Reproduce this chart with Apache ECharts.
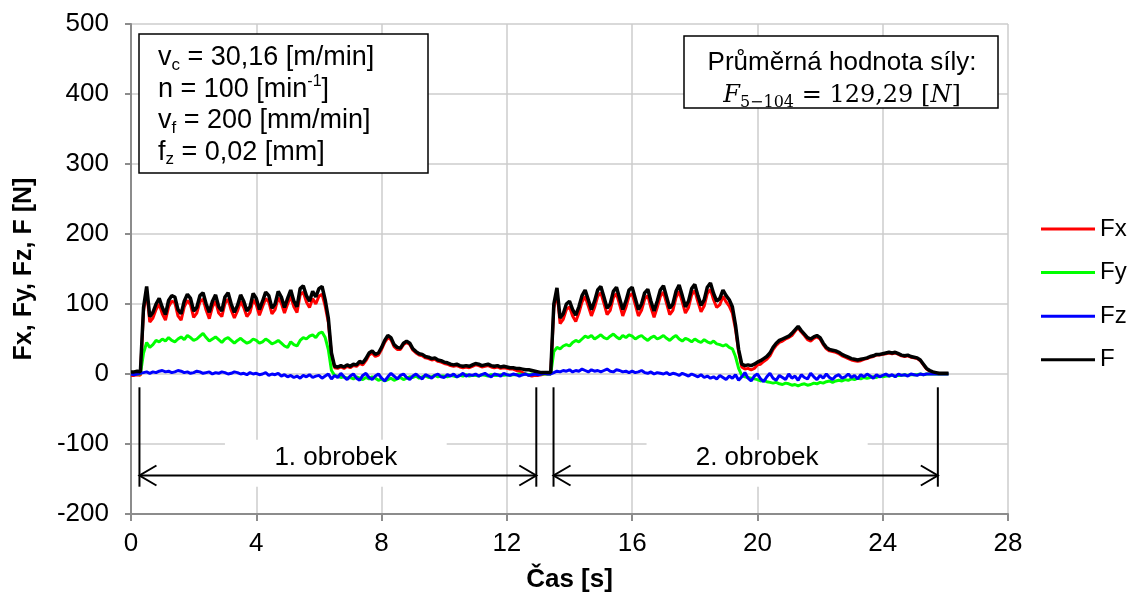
<!DOCTYPE html>
<html>
<head>
<meta charset="utf-8">
<script src="https://cdn.jsdelivr.net/npm/echarts@6/dist/echarts.min.js"></script>
<style>
  html, body { margin: 0; padding: 0; background: #fff; }
  #forceChart { width: 1128px; height: 599px; }
</style>
</head>
<body>
<div id="forceChart"></div>
<script>
// sampling step of the recorded signals [s]
const sampleStep = 0.1;

// one row = one second (10 samples)
const Fx = [
  -2, -2, -1, -2, 90, 118, 74, 80, 92, 100,
  86, 77, 96, 104, 102, 83, 77, 96, 105, 99,
  81, 87, 103, 107, 91, 79, 96, 104, 87, 82,
  101, 107, 91, 80, 90, 104, 95, 82, 88, 106,
  99, 84, 96, 108, 103, 86, 92, 109, 101, 87,
  100, 111, 96, 88, 113, 117, 103, 95, 108, 100,
  111, 114, 97, 74, 28, 9, 8, 10, 8, 11,
  9, 12, 11, 15, 13, 19, 27, 30, 25, 27,
  35, 45, 52, 49, 39, 35, 35, 42, 45, 42,
  34, 30, 27, 26, 23, 22, 20, 21, 18, 17,
  15, 14, 12, 11, 12, 10, 9, 10, 9, 11,
  13, 12, 10, 11, 12, 10, 9, 10, 8, 9,
  8, 7, 7, 5, 4, 2, 0, -2, -3, -2,
  -2, -1, 0, 0, 0, 94, 117, 72, 78, 92,
  96, 83, 75, 87, 103, 111, 97, 83, 95, 111,
  116, 101, 85, 91, 109, 115, 99, 83, 95, 111,
  115, 99, 83, 91, 107, 112, 95, 81, 95, 111,
  117, 101, 85, 91, 109, 118, 103, 87, 95, 113,
  119, 103, 89, 97, 115, 121, 106, 95, 99, 111,
  103, 97, 87, 64, 32, 10, 7, 8, 6, 8,
  13, 14, 18, 21, 26, 35, 41, 45, 47, 50,
  52, 55, 61, 66, 60, 55, 49, 47, 51, 53,
  50, 42, 36, 33, 32, 31, 29, 26, 24, 22,
  20, 19, 18, 19, 21, 22, 24, 25, 27, 27,
  28, 29, 30, 29, 30, 28, 26, 25, 26, 24,
  23, 22, 19, 13, 7, 4, 2, 1, 0, 0,
  0, 0
];

const Fy = [
  0, 0, 0, 0, 30, 45, 38, 42, 48, 46,
  50, 47, 52, 48, 46, 50, 53, 49, 55, 52,
  48, 50, 54, 58, 52, 47, 50, 53, 49, 45,
  50, 52, 48, 44, 48, 51, 47, 44, 46, 50,
  48, 44, 46, 50, 47, 43, 45, 48, 44, 40,
  38, 46, 42, 40, 48, 52, 50, 54, 56, 52,
  58, 60, 52, 35, 5, -2, -3, -5, -4, -6,
  -5, -7, -4, -6, -8, -5, -7, -4, -6, -9,
  -7, -10, -8, -6, -9, -7, -5, -8, -6, -4,
  -5, -3, -6, -4, -3, -5, -4, -2, -4, -3,
  -3, -4, -2, -3, -4, -2, -3, -1, -3, -2,
  -2, -3, -1, -2, -3, -1, -2, -2, -1, -2,
  -1, -2, -1, -1, 0, -1, 0, -1, 0, 0,
  0, 0, 0, 0, 0, 32, 38, 36, 40, 42,
  40, 45, 48, 46, 50, 54, 52, 55, 50, 53,
  56, 52, 50, 54, 57, 53, 50, 55, 52, 56,
  54, 50, 53, 55, 51, 48, 52, 54, 50, 52,
  55, 51, 48, 52, 55, 50, 47, 51, 49, 46,
  50, 47, 45, 49, 46, 44, 47, 43, 42, 40,
  42, 38, 36, 25, 8, -2, -4, -5, -6, -7,
  -8, -10, -9, -11, -12, -13, -12, -14, -15, -13,
  -14, -16, -15, -17, -15, -14, -16, -15, -13, -14,
  -12, -13, -11, -10, -12, -10, -9, -10, -8, -9,
  -7, -8, -6, -7, -5, -6, -5, -4, -5, -3,
  -4, -3, -3, -2, -3, -2, -2, -1, -2, -1,
  -1, -1, 0, -1, 0, 0, 0, 0, 0, 0,
  0, 0
];

const Fz = [
  0, -1, 0, 1, 2, 3, 1, 3, 2, 4,
  5, 3, 4, 2, 3, 5, 4, 2, 3, 1,
  2, 4, 3, 1, 2, 3, 0, 2, 1, 3,
  2, 0, 1, 3, 2, 0, 1, -1, 2, 0,
  1, -1, 0, 2, -2, 0, -1, 1, -3, -1,
  -4, -2, -5, -3, -6, -2, -4, -1, -5, -3,
  -2, -6, -3, 0, -7, -2, -5, 1, -4, -8,
  -3, 0, -6, -9, -2, 1, -5, -8, -3, 0,
  -6, -10, -4, 1, -3, -7, -2, 0, -5, -8,
  -3, 0, -4, -7, -1, -3, -6, -2, 0, -4,
  -5, -1, -3, 0, -4, -2, 1, -3, -1, -2,
  0, -3, -1, 1, -2, -4, 0, -1, -3, 1,
  -1, -2, 0, -1, -3, -1, 0, -2, -1, 0,
  -1, 0, 1, 0, 0, 2, 4, 3, 5, 4,
  6, 3, 5, 4, 7, 5, 3, 6, 4, 5,
  3, 5, 7, 4, 3, 6, 5, 3, 4, 2,
  4, 2, 3, 5, 2, 1, 3, 0, 2, 1,
  0, 2, -1, 1, 0, -2, 1, -1, -3, 0,
  -2, -4, -1, -5, -3, -6, -4, -7, -2, -5,
  -8, -3, -6, -1, -9, -4, 2, -6, -10, -3,
  0, -7, -11, -4, 1, -6, -9, -2, -5, -8,
  0, -6, -3, -9, -1, -5, -7, 1, -4, -8,
  -2, -6, 0, -5, -8, -3, -1, -6, -4, 0,
  -5, -2, -7, -1, -4, 0, -3, -6, -1, -4,
  -2, 0, -3, -1, -4, 0, -2, -1, -3, 0,
  -1, -2, 0, -1, 0, 0, 0, 0, 0, 0,
  0, 0
];

const F = [
  3, 3, 4, 3, 95, 125, 82, 88, 100, 108,
  95, 85, 105, 112, 110, 92, 86, 104, 114, 108,
  90, 95, 112, 116, 100, 88, 104, 113, 96, 90,
  110, 116, 100, 88, 98, 113, 104, 90, 96, 115,
  108, 92, 104, 117, 112, 94, 100, 118, 110, 95,
  108, 120, 104, 96, 122, 126, 112, 104, 118, 110,
  122, 125, 106, 80, 30, 11, 10, 12, 10, 13,
  11, 14, 13, 18, 16, 22, 30, 33, 28, 30,
  38, 48, 55, 52, 42, 38, 37, 44, 47, 44,
  36, 32, 29, 28, 25, 24, 22, 23, 20, 19,
  17, 16, 14, 13, 14, 12, 11, 12, 11, 13,
  15, 14, 12, 13, 14, 12, 11, 12, 10, 11,
  10, 9, 9, 8, 8, 7, 6, 6, 5, 4,
  3, 2, 2, 2, 2, 100, 123, 80, 86, 100,
  104, 92, 84, 96, 112, 120, 106, 92, 104, 120,
  125, 110, 94, 100, 118, 124, 108, 92, 104, 120,
  124, 108, 92, 100, 116, 121, 104, 90, 104, 120,
  126, 110, 94, 100, 118, 127, 112, 96, 104, 122,
  128, 112, 98, 106, 124, 130, 115, 104, 108, 120,
  112, 106, 96, 70, 35, 14, 12, 13, 12, 14,
  17, 19, 22, 25, 30, 38, 44, 48, 50, 52,
  54, 58, 63, 68, 62, 57, 52, 50, 53, 55,
  52, 44, 38, 35, 34, 33, 31, 28, 26, 24,
  22, 21, 20, 21, 22, 23, 25, 26, 28, 28,
  29, 30, 31, 30, 31, 29, 27, 26, 27, 25,
  24, 23, 20, 14, 8, 5, 3, 2, 1, 1,
  1, 1
];

const seriesNames = ["Fx", "Fy", "Fz", "F"];
const seriesColors = ["#ff0000", "#00ff00", "#0000ff", "#000000"];

// workpiece spans (time [s]) for the dimension arrows
const workpieces = [
  { label: "1. obrobek", start: 0.27, end: 12.94, boxFrom: 3.0, boxTo: 10.08 },
  { label: "2. obrobek", start: 13.49, end: 25.76, boxFrom: 16.46, boxTo: 23.52 }
];

const toPairs = arr => arr.map((v, i) => [+(i * sampleStep).toFixed(1), v]);

let chartDom = document.getElementById("forceChart");
let myChart = echarts.init(chartDom, null, { renderer: "canvas" });

const font = "Liberation Sans, Arial, sans-serif";

let option = {
  animation: false,
  textStyle: { fontFamily: font, color: "#000" },
  grid: {
    left: 131,
    right: 120,
    top: 24,
    bottom: 85,
    containLabel: false,
    outerBoundsMode: "none"
  },
  legend: {
    orient: "vertical",
    left: 1036,
    top: 212,
    itemWidth: 54,
    itemHeight: 3,
    itemGap: 19.6,
    icon: "rect",
    selectedMode: false,
    textStyle: { fontSize: 24, lineHeight: 24, color: "#000", fontFamily: font },
    data: seriesNames
  },
  xAxis: {
    type: "value",
    min: 0,
    max: 28,
    interval: 4,
    name: "Čas [s]",
    nameLocation: "middle",
    nameGap: 53,
    nameTextStyle: { fontSize: 26, fontWeight: "bold", color: "#000" },
    axisLine: { onZero: false, lineStyle: { color: "#8c8c8c", width: 2 } },
    axisTick: { show: true, length: 7, lineStyle: { color: "#8c8c8c", width: 2 } },
    axisLabel: { fontSize: 26, margin: 17, color: "#000" },
    splitLine: { show: true, lineStyle: { color: "#cccccc", width: 1.5 } }
  },
  yAxis: {
    type: "value",
    min: -200,
    max: 500,
    interval: 100,
    name: "Fx, Fy, Fz, F [N]",
    nameLocation: "middle",
    nameGap: 94,
    nameTextStyle: { fontSize: 25, fontWeight: "bold", color: "#000" },
    axisLine: { show: true, lineStyle: { color: "#8c8c8c", width: 2 } },
    axisTick: { show: true, length: 6, lineStyle: { color: "#8c8c8c", width: 2 } },
    axisLabel: { fontSize: 26, margin: 22, color: "#000" },
    splitLine: { show: true, lineStyle: { color: "#cccccc", width: 1.5 } }
  },
  series: [Fx, Fy, Fz, F].map((arr, i) => ({
    name: seriesNames[i],
    type: "line",
    showSymbol: false,
    symbol: "none",
    color: seriesColors[i],
    lineStyle: { color: seriesColors[i], width: i === 3 ? 3.5 : 3 },
    z: 2 + i,
    data: toPairs(arr)
  }))
};

myChart.setOption(option);

// annotations -------------------------------------------------------------
const px = (t, v) => myChart.convertToPixel({ gridIndex: 0 }, [t, v]);
const lineStyle = { stroke: "#000", lineWidth: 2 };
let graphics = [];

workpieces.forEach(w => {
  const b1 = px(w.boxFrom, -94), b2 = px(w.boxTo, -161);
  graphics.push({
    type: "rect", z: 100,
    shape: { x: b1[0], y: b1[1], width: b2[0] - b1[0], height: b2[1] - b1[1] },
    style: { fill: "#fff" }
  });
  [w.start, w.end].forEach(t => {
    const a = px(t, -19), b = px(t, -161);
    graphics.push({ type: "line", z: 101, shape: { x1: a[0], y1: a[1], x2: b[0], y2: b[1] }, style: lineStyle });
  });
  const l = px(w.start, -145), r = px(w.end, -145);
  graphics.push({ type: "line", z: 101, shape: { x1: l[0], y1: l[1], x2: r[0], y2: r[1] }, style: lineStyle });
  graphics.push({ type: "polyline", z: 101, shape: { points: [[l[0] + 17, l[1] - 10], [l[0], l[1]], [l[0] + 17, l[1] + 10]] }, style: Object.assign({ fill: null }, lineStyle) });
  graphics.push({ type: "polyline", z: 101, shape: { points: [[r[0] - 17, r[1] - 10], [r[0], r[1]], [r[0] - 17, r[1] + 10]] }, style: Object.assign({ fill: null }, lineStyle) });
  const c = px((w.boxFrom + w.boxTo) / 2, -119.6);
  graphics.push({
    type: "text", z: 102, x: c[0], y: c[1],
    style: { text: w.label, font: "26px " + font, fill: "#000", align: "center", verticalAlign: "middle" }
  });
});

// cutting conditions box
graphics.push({
  type: "rect", z: 100,
  shape: { x: 139, y: 34, width: 289, height: 139 },
  style: { fill: "#fff", stroke: "#000", lineWidth: 1.5 }
});
graphics.push({
  type: "text", z: 101, x: 158, y: 42,
  style: {
    text: "v{sub|c} = 30,16 [m/min]\nn = 100 [min{sup|-1}]\nv{sub|f} = 200 [mm/min]\nf{sub|z} = 0,02 [mm]",
    fontFamily: font, fontSize: 27, lineHeight: 31.5, fill: "#000",
    align: "left", verticalAlign: "top",
    rich: {
      sub: { fontFamily: font, fontSize: 17, lineHeight: 14, verticalAlign: "bottom" },
      sup: { fontFamily: font, fontSize: 16, lineHeight: 14, verticalAlign: "top" }
    }
  }
});

// mean force box
graphics.push({
  type: "rect", z: 100,
  shape: { x: 684, y: 36, width: 314, height: 72 },
  style: { fill: "#fff", stroke: "#000", lineWidth: 1.5 }
});
graphics.push({
  type: "text", z: 101, x: 842, y: 63,
  style: { text: "Průměrná hodnota síly:", font: "26px " + font, fill: "#000", align: "center", verticalAlign: "middle" }
});
graphics.push({
  type: "text", z: 101, x: 842, y: 81,
  style: {
    text: "{it|F}{sub|5−104} = 129,29 [{it|N}]",
    fontFamily: "DejaVu Serif, serif", fontSize: 24, lineHeight: 30, fill: "#000",
    align: "center", verticalAlign: "top",
    rich: {
      it: { fontFamily: "DejaVu Serif, serif", fontStyle: "italic", fontSize: 24, lineHeight: 30 },
      sub: { fontFamily: "DejaVu Serif, serif", fontSize: 16, lineHeight: 12, verticalAlign: "bottom" }
    }
  }
});

myChart.setOption({ graphic: graphics });
</script>
</body>
</html>
